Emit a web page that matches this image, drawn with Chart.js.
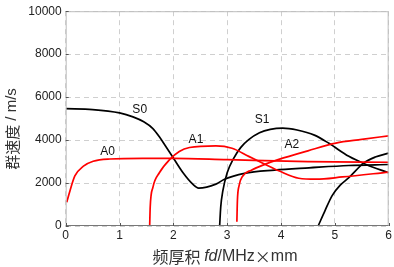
<!DOCTYPE html>
<html>
<head>
<meta charset="utf-8">
<script src="https://cdn.jsdelivr.net/npm/chart.js@4/dist/chart.umd.min.js"></script>
<style>
  html, body { margin: 0; padding: 0; background: #fff; }
  #wrap { width: 394px; height: 267px; }
</style>
</head>
<body>
<div id="wrap"><canvas id="chart"></canvas></div>
<script>
// dispersion curves (fd in MHz·mm, group velocity in m/s)
const s0X = [0, 0.5, 1.0, 1.25, 1.45, 1.62, 1.74, 1.86, 2.0, 2.18, 2.36, 2.47, 2.79, 2.95, 3.32, 3.88, 4.52, 5.26, 6.0];
const s0Y = [5460, 5420, 5265, 5080, 4850, 4534, 4150, 3698, 3164, 2480, 1950, 1767, 1950, 2178, 2452, 2603, 2708, 2817, 2863];

const s1X = [2.86, 2.88, 2.92, 3.0, 3.12, 3.25, 3.4, 3.6, 3.8, 4.03, 4.3, 4.62, 4.89, 5.26, 5.58, 6.0];
const s1Y = [0, 880, 1644, 2480, 3150, 3650, 4020, 4340, 4500, 4560, 4470, 4232, 3850, 3242, 2863, 2480];

const s2X = [4.69, 4.82, 4.95, 5.1, 5.26, 5.54, 5.75, 6.0];
const s2Y = [0, 730, 1415, 1900, 2250, 2937, 3210, 3393];

const a0X = [0.02, 0.08, 0.17, 0.33, 0.51, 0.82, 1.43, 2.0, 3.0, 4.5, 6.0];
const a0Y = [1110, 1644, 2329, 2785, 3014, 3119, 3150, 3150, 3090, 3000, 2968];

const a1X = [1.56, 1.57, 1.62, 1.74, 1.93, 2.11, 2.30, 2.79, 3.09, 3.40, 3.71, 3.97, 4.33, 4.65, 5.14, 6.0];
const a1Y = [0, 880, 1800, 2480, 3090, 3470, 3653, 3730, 3620, 3242, 2863, 2557, 2223, 2178, 2283, 2511];

const a2X = [3.18, 3.19, 3.22, 3.29, 3.45, 3.71, 3.96, 4.5, 5.02, 5.5, 6.0];
const a2Y = [200, 1187, 1872, 2329, 2600, 2880, 3100, 3500, 3860, 4030, 4200];

// mode labels and where they sit (data coords)
const modeNames = ['S0', 'A0', 'A1', 'S1', 'A2'];
const modeLabelX = [1.375, 0.78, 2.42, 3.65, 4.2];
const modeLabelY = [5434, 3470, 4004, 4931, 3790];

const xTicks = [0, 1, 2, 3, 4, 5, 6];
const yTicks = [0, 2000, 4000, 6000, 8000, 10000];

function pts(xs, ys) {
    return xs.map((x, i) => ({ x: x, y: ys[i] }));
}

function curve(xs, ys, color) {
    return {
        data: pts(xs, ys),
        showLine: true,
        borderColor: color,
        borderWidth: 1.7,
        pointRadius: 0,
        cubicInterpolationMode: 'monotone',
        fill: false
    };
}

const frameAndText = {
    id: 'frameAndText',
    afterDatasetsDraw(chart) {
        const ctx = chart.ctx;
        const a = chart.chartArea;
        const xs = chart.scales.x, ys = chart.scales.y;
        ctx.save();
        // box
        ctx.strokeStyle = '#bdbdbd';
        ctx.lineWidth = 1;
        ctx.strokeRect(a.left + 0.5, a.top + 0.5, a.right - a.left - 1, a.bottom - a.top - 1);
        ctx.strokeStyle = '#777';
        ctx.beginPath();
        ctx.moveTo(a.left, a.bottom - 0.5);
        ctx.lineTo(a.right, a.bottom - 0.5);
        ctx.stroke();
        // inward ticks
        ctx.strokeStyle = '#555';
        ctx.beginPath();
        xTicks.forEach(t => {
            const px = Math.round(xs.getPixelForValue(t)) + 0.5;
            ctx.moveTo(px, a.bottom);
            ctx.lineTo(px, a.bottom - 3);
        });
        yTicks.forEach(t => {
            const py = Math.round(ys.getPixelForValue(t)) + 0.5;
            ctx.moveTo(a.left, py);
            ctx.lineTo(a.left + 3, py);
        });
        ctx.stroke();

        // mode labels
        ctx.fillStyle = '#111';
        ctx.font = '12px "Liberation Sans", Arial, sans-serif';
        ctx.textAlign = 'center';
        ctx.textBaseline = 'middle';
        modeNames.forEach((n, i) => {
            ctx.fillText(n, xs.getPixelForValue(modeLabelX[i]), ys.getPixelForValue(modeLabelY[i]));
        });

        // x title: 频厚积 fd/MHz×mm
        const cjk = '16px "Noto Sans CJK SC", sans-serif';
        const lat = '16px "Liberation Sans", Arial, sans-serif';
        const ital = 'italic 16px "Liberation Sans", Arial, sans-serif';
        const parts = [['频厚积 ', cjk], ['fd', ital], ['/MHz', lat], ['×', cjk], ['mm', lat]];
        let total = 0;
        parts.forEach(p => { ctx.font = p[1]; total += ctx.measureText(p[0]).width; });
        let x = 225 - total / 2;
        ctx.fillStyle = '#333';
        ctx.textAlign = 'left';
        parts.forEach(p => {
            ctx.font = p[1];
            ctx.fillText(p[0], x, 257);
            x += ctx.measureText(p[0]).width;
        });

        // y title
        const cjkY = '15px "Noto Sans CJK SC", sans-serif';
        const latY = '15px "Liberation Sans", Arial, sans-serif';
        ctx.translate(12, 129);
        ctx.rotate(-Math.PI / 2);
        const yparts = [['群速度', cjkY], [' / m/s', latY]];
        total = 0;
        yparts.forEach(p => { ctx.font = p[1]; total += ctx.measureText(p[0]).width; });
        x = -total / 2;
        yparts.forEach(p => {
            ctx.font = p[1];
            ctx.fillText(p[0], x, 0);
            x += ctx.measureText(p[0]).width;
        });
        ctx.restore();
    }
};

new Chart(document.getElementById('chart'), {
    type: 'scatter',
    data: {
        datasets: [
            curve(a0X, a0Y, '#ff0000'),
            curve(a1X, a1Y, '#ff0000'),
            curve(a2X, a2Y, '#ff0000'),
            curve(s0X, s0Y, '#000000'),
            curve(s1X, s1Y, '#000000'),
            curve(s2X, s2Y, '#000000')
        ]
    },
    plugins: [frameAndText],
    options: {
        responsive: true,
        maintainAspectRatio: false,
        animation: false,
        layout: { padding: { top: 7, right: 4, left: 0, bottom: 0 } },
        plugins: { legend: { display: false }, tooltip: { enabled: false } },
        scales: {
            x: {
                type: 'linear', min: 0, max: 6,
                afterBuildTicks: s => { s.ticks = xTicks.map(v => ({ value: v })); },
                afterFit: s => { s.height = 41; },
                grid: { color: '#cfcfcf', drawTicks: false },
                border: { display: false, dash: [5, 4] },
                ticks: {
                    padding: 2,
                    color: '#222',
                    callback: v => String(v),
                    font: { family: '"Liberation Sans", Arial, sans-serif', size: 12 }
                }
            },
            y: {
                type: 'linear', min: 0, max: 10000,
                afterBuildTicks: s => { s.ticks = yTicks.map(v => ({ value: v })); },
                afterFit: s => { s.width = 65.7; },
                grid: { color: '#cfcfcf', drawTicks: false },
                border: { display: false, dash: [5, 4] },
                ticks: {
                    padding: 4,
                    color: '#222',
                    callback: v => String(v),
                    font: { family: '"Liberation Sans", Arial, sans-serif', size: 12 }
                }
            }
        }
    }
});
</script>
</body>
</html>
